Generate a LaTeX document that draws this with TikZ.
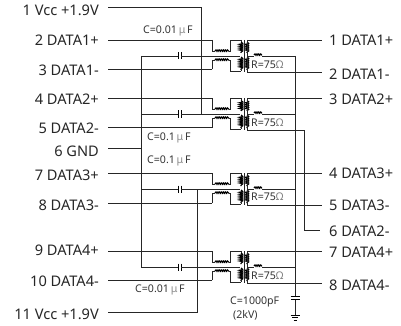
\documentclass[tikz,border=0pt]{standalone}
\usepackage{fontspec}
\setmainfont{Noto Sans}
\usetikzlibrary{decorations.pathmorphing}
\tikzset{
  x=1pt,y=-1pt,
  wire/.style={draw=black!85,line width=0.8pt},
  coilv/.style={draw=black,line width=1.1pt,decorate,decoration={coil,aspect=0.5,segment length=1.9pt,amplitude=1.7pt}},
  coilh/.style={draw=black,line width=1.1pt,decorate,decoration={coil,aspect=0.5,segment length=1.9pt,amplitude=1.1pt}},
  pinl/.style={anchor=east,inner sep=0pt,font=\fontsize{14.6}{16}\selectfont,text=black!85},
  pinr/.style={anchor=west,inner sep=0pt,font=\fontsize{14.6}{16}\selectfont,text=black!85},
  val/.style={inner sep=0pt,font=\fontsize{10.6}{12}\selectfont,text=black!80,align=center},
  plate/.style={draw=black,line width=0.9pt},
}
\newcommand{\um}{\textcolor{black!45}{\,μ\,}}
\newcommand{\ohm}{\textcolor{black!50}{Ω}}
\begin{document}
\begin{tikzpicture}
\useasboundingbox (0,0) rectangle (401,326);
% left pins
\foreach \n/\t/\y in {1/1 Vcc +1.9V/10,2/2 DATA1+/40.7,3/3 DATA1-/70.7,4/4 DATA2+/99.3,5/5 DATA2-/128,6/6 GND/151,7/7 DATA3+/175.7,8/8 DATA3-/205.7,9/9 DATA4+/250.7,10/10 DATA4-/281.7,11/11 Vcc +1.9V/314}{
  \node[pinl] (L\n) at (99,\y) {\t};
}
% right pins
\foreach \n/\t/\y in {1/1 DATA1+/40.7,2/2 DATA1-/74,3/3 DATA2+/99.3,4/4 DATA3+/173,5/5 DATA3-/205.7,6/6 DATA2-/231.7,7/7 DATA4+/252,8/8 DATA4-/285}{
  \node[pinr] (R\n) at (329,\y) {\t};
}
% coordinates for pin wire ends
\foreach \n/\y in {1/7,2/40,3/69.5,4/98.5,5/127.5,6/148,7/173,8/203,9/251,10/280,11/312}{
  \coordinate (lp\n) at (108,\y);
}
% transformer blocks: base y, left bottom y, right bottom y
\foreach \b/\a/\lb/\rb/\c in {A/40/69.5/72/56,B/98.5/127.5/130/114,C/173/203/205/189,D/251/280/283/267}{
  \coordinate (\b tl) at (212,\a);
  \coordinate (\b bl) at (212,\lb);
  \coordinate (\b cl) at (141,\c);
  \coordinate (\b cap1) at (178.5,\c);
  \coordinate (\b cap2) at (181,\c);
  \coordinate (\b cc) at (240,\c);
  % series chokes
  \draw[wire] (\b tl) -- (212,\c-5) -- (215,\c-5);
  \draw[coilh] (215,\c-5) -- (229,\c-5);
  \draw[wire] (229,\c-5) -- (230,\c-5) -- (230,\a) -- (241,\a);
  \draw[wire] (\b bl) -- (212,\c+4) -- (215,\c+4);
  \draw[coilh] (215,\c+4) -- (229,\c+4);
  \draw[wire] (229,\c+4) -- (230,\c+4) -- (230,\rb-1) -- (241,\rb-1);
  % capacitor wire
  \draw[wire] (\b cl) -- (\b cap1);
  \draw[plate] (178.5,\c-3.5) -- (178.5,\c+3.5);
  \draw[plate] (181,\c-3.5) -- (181,\c+3.5);
  \draw[wire] (\b cap2) -- (\b cc);
  % transformer
  \draw[coilv] (241,\a+2) -- (241,\c-3);
  \draw[coilv] (241,\c+1) -- (241,\rb-2);
  \draw[coilv] (247,\a+2) -- (247,\c-3);
  \draw[coilv] (247,\c+1) -- (247,\rb-2);
  \draw[wire] (244,\a) -- (244,\rb);
  \draw[wire] (241,\a) -- (241,\a+2) (241,\rb-1) -- (241,\rb-2);
  % secondary
  \draw[wire] (247,\a) -- (247,\rb);
  % termination
  \draw[wire] (247,\c) -- (254,\c);
  \draw[coilh] (254,\c-1) -- (262,\c-1);
  \draw[wire] (262,\c) -- (295,\c);
  \coordinate (\b top) at (247,\a);
  \coordinate (\b bot) at (247,\rb);
}
% pin wires to blocks
\draw[wire] (lp2) -- (Atl);
\draw[wire] (lp3) -- (Abl);
\draw[wire] (lp4) -- (Btl);
\draw[wire] (lp5) -- (Bbl);
\draw[wire] (lp7) -- (Ctl);
\draw[wire] (lp8) -- (Cbl);
\draw[wire] (lp9) -- (Dtl);
\draw[wire] (lp10) -- (Dbl);
% ground bus
\draw[wire] (lp6) -- (141,148);
\draw[wire] (Acl) -- (Dcl);
% Vcc
\draw[wire] (lp1) -- (201,7) -- (201,114);
\draw[wire] (lp11) -- (197,312) -- (197,189);
% right wires
\draw[wire] (Atop) -- (322,40);
\draw[wire] (Abot) -- (322,72);
\draw[wire] (Btop) -- (322,98.5);
\draw[wire] (Bbot) -- (304,130) -- (304,230) -- (320,230);
\draw[wire] (Ctop) -- (322,173);
\draw[wire] (Cbot) -- (322,205);
\draw[wire] (Dtop) -- (322,251);
\draw[wire] (Dbot) -- (322,283);
% chassis capacitor and ground
\coordinate (gtop) at (295,56);
\coordinate (gc1) at (295,296.5);
\coordinate (gc2) at (295,299.5);
\coordinate (gnd) at (295,315);
\draw[wire] (gtop) -- (gc1);
\draw[wire] (gc2) -- (gnd);
\draw[plate] (290.5,296.5) -- (299.5,296.5);
\draw[plate] (290.5,299.5) -- (299.5,299.5);
\draw[plate] (290.5,315) -- (299.5,315);
\draw[plate] (292,317.5) -- (298,317.5);
\draw[plate] (293.5,320) -- (296.5,320);
% values
\node[val,anchor=west] (c1) at (143,31) {C=0.01\um F};
\node[val,anchor=west] (c2) at (147,138) {C=0.1\um F};
\node[val,anchor=west] (c3) at (147,161) {C=0.1\um F};
\node[val,anchor=west] (c4) at (135,290) {C=0.01\um F};
\node[val,anchor=west] (r1) at (251,65) {R=75\ohm};
\node[val,anchor=west] (r2) at (251,123) {R=75\ohm};
\node[val,anchor=west] (r3) at (251,197) {R=75\ohm};
\node[val,anchor=west] (r4) at (251,276) {R=75\ohm};
\node[val,anchor=west] (c5) at (230,302) {C=1000pF};
\node[val,anchor=west] (c6) at (233,315) {(2kV)};
\end{tikzpicture}
\end{document}
